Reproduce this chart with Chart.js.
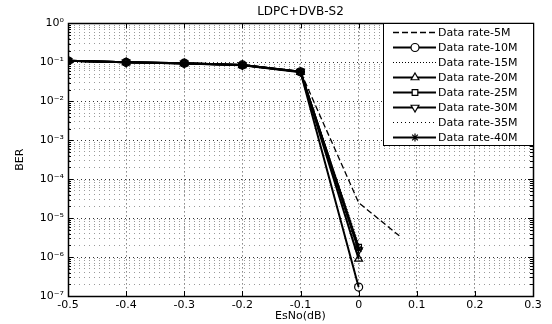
<!DOCTYPE html>
<html>
<head>
<meta charset="utf-8">
<script src="https://cdn.jsdelivr.net/npm/chart.js@4.4.1/dist/chart.umd.min.js"></script>
<style>
  html, body { margin: 0; padding: 0; background: #fff; }
  #wrap { width: 552px; height: 324px; }
</style>
</head>
<body>
<div id="wrap"><canvas id="c" width="552" height="324"></canvas></div>
<script>
// EsNo (dB) sample points
const esno = [-0.5, -0.4, -0.3, -0.2, -0.1, 0];
const esno5M = [-0.5, -0.4, -0.3, -0.2, -0.1, 0, 0.07];

// BER per data rate
const ber5M  = [0.11, 0.1, 0.094, 0.085, 0.058, 2.5e-5, 3.5e-6];
const ber10M = [0.11, 0.1, 0.095, 0.086, 0.057, 1.7e-7];
const ber15M = [0.11, 0.1, 0.094, 0.085, 0.058, 2.2e-6];
const ber20M = [0.11, 0.1, 0.094, 0.084, 0.056, 9e-7];
const ber25M = [0.11, 0.1, 0.095, 0.085, 0.057, 1.8e-6];
const ber30M = [0.11, 0.1, 0.094, 0.085, 0.058, 1.5e-6];
const ber35M = [0.11, 0.1, 0.094, 0.084, 0.057, 1.2e-6];
const ber40M = [0.11, 0.1, 0.095, 0.085, 0.058, 1.6e-6];

const seriesLabels = ['Data rate-5M', 'Data rate-10M', 'Data rate-15M', 'Data rate-20M',
  'Data rate-25M', 'Data rate-30M', 'Data rate-35M', 'Data rate-40M'];

const xTicks = [-0.5, -0.4, -0.3, -0.2, -0.1, 0, 0.1, 0.2, 0.3];
const yDecades = [-7, -6, -5, -4, -3, -2, -1, 0];

const FONT = 'DejaVu Sans';
const sup = { '-': '\u207B', '0': '\u2070', '1': '\u00B9', '2': '\u00B2', '3': '\u00B3',
  '4': '\u2074', '5': '\u2075', '6': '\u2076', '7': '\u2077', '8': '\u2078', '9': '\u2079' };

function isMajor(v) {
  const l = Math.log10(v);
  return Math.abs(l - Math.round(l)) < 1e-9;
}

function pts(xs, ys) {
  return xs.map((x, i) => ({ x: x, y: ys[i] }));
}

function series(label, xs, ys, style) {
  return Object.assign({
    label: label,
    data: pts(xs, ys),
    borderColor: '#000',
    backgroundColor: 'rgba(0,0,0,0)',
    pointBorderColor: '#000',
    pointBackgroundColor: 'rgba(0,0,0,0)',
    borderWidth: 2,
    pointBorderWidth: 1.2,
    pointRadius: 0,
    pointStyle: 'circle',
    pointRotation: 0,
    tension: 0,
    fill: false,
  }, style);
}

const datasets = [
  series(seriesLabels[0], esno5M, ber5M, { borderDash: [6, 3], borderWidth: 1.3 }),
  series(seriesLabels[1], esno, ber10M, { pointRadius: 4, pointStyle: 'circle' }),
  series(seriesLabels[2], esno, ber15M, { borderDash: [1, 2], borderWidth: 1 }),
  series(seriesLabels[3], esno, ber20M, { pointRadius: 4.5, pointStyle: 'triangle' }),
  series(seriesLabels[4], esno, ber25M, { pointRadius: 4, pointStyle: 'rect' }),
  series(seriesLabels[5], esno, ber30M, { pointRadius: 4.5, pointStyle: 'triangle', pointRotation: 180 }),
  series(seriesLabels[6], esno, ber35M, { borderDash: [1, 3], borderWidth: 1 }),
  series(seriesLabels[7], esno, ber40M, { pointRadius: 4, pointStyle: 'star' }),
];

// frame, inner tick marks and the in-plot legend (MATLAB style)
const matlabBox = {
  id: 'matlabBox',
  afterDraw(chart) {
    const { ctx, chartArea: a, scales } = chart;
    ctx.save();
    ctx.strokeStyle = '#000';
    ctx.lineWidth = 1;
    ctx.setLineDash([]);
    ctx.beginPath();
    scales.y.ticks.forEach(t => {
      const y = Math.round(scales.y.getPixelForValue(t.value)) + 0.5;
      const len = isMajor(t.value) ? 5 : 3;
      ctx.moveTo(a.left, y); ctx.lineTo(a.left + len, y);
      ctx.moveTo(a.right, y); ctx.lineTo(a.right - len, y);
    });
    scales.x.ticks.forEach(t => {
      const x = Math.round(scales.x.getPixelForValue(t.value)) + 0.5;
      ctx.moveTo(x, a.bottom); ctx.lineTo(x, a.bottom - 5);
      ctx.moveTo(x, a.top); ctx.lineTo(x, a.top + 5);
    });
    ctx.stroke();
    ctx.lineWidth = 1.5;
    ctx.strokeRect(Math.round(a.left) + 0.5, Math.round(a.top) + 0.5,
      Math.round(a.right - a.left), Math.round(a.bottom - a.top));

    // legend
    const lx = 383, ly = Math.round(a.top) + 0.5, lw = Math.round(a.right) - lx, lh = 122;
    ctx.fillStyle = '#fff';
    ctx.fillRect(lx, ly, lw, lh);
    ctx.lineWidth = 1;
    ctx.strokeRect(lx + 0.5, ly, lw, lh);
    ctx.font = '11px "' + FONT + '"';
    ctx.textBaseline = 'middle';
    ctx.textAlign = 'left';
    chart.data.datasets.forEach((ds, i) => {
      const y = ly + 9 + i * 15;
      ctx.strokeStyle = '#000';
      ctx.lineWidth = ds.borderWidth;
      ctx.setLineDash(ds.borderDash || []);
      ctx.beginPath();
      ctx.moveTo(393, y); ctx.lineTo(436, y);
      ctx.stroke();
      ctx.setLineDash([]);
      if (ds.pointRadius > 0) {
        ctx.lineWidth = ds.pointBorderWidth;
        ctx.fillStyle = '#fff';
        Chart.helpers.drawPoint(ctx, {
          pointStyle: ds.pointStyle, rotation: ds.pointRotation,
          radius: ds.pointRadius, borderWidth: ds.pointBorderWidth
        }, 415, y);
      }
      ctx.fillStyle = '#000';
      ctx.fillText(ds.label, 438, y + 0.5);
    });
    ctx.restore();
  }
};

new Chart(document.getElementById('c'), {
  type: 'line',
  data: { datasets },
  options: {
    responsive: false,
    animation: false,
    layout: { padding: { left: 0, right: 19, top: 0, bottom: 0 } },
    scales: {
      x: {
        type: 'linear',
        min: -0.5,
        max: 0.3,
        afterFit: s => { s.height = 28; },
        afterBuildTicks: s => { s.ticks = xTicks.map(v => ({ value: v })); },
        ticks: {
          autoSkip: false,
          padding: 3,
          color: '#000',
          font: { family: FONT, size: 11 },
          callback: v => {
            const r = Math.round(v * 10) / 10;
            return r === 0 ? '0' : r.toFixed(1);
          }
        },
        grid: { color: '#444', lineWidth: 1, drawTicks: false },
        border: { display: true, color: '#000', width: 1, dash: [1, 3] },
        title: {
          display: true, text: 'EsNo(dB)', color: '#000',
          font: { family: FONT, size: 11 }, padding: { top: 0, bottom: 1 }
        }
      },
      y: {
        type: 'logarithmic',
        min: 1e-7,
        max: 1,
        afterFit: s => { s.width = 68; },
        afterBuildTicks: s => {
          const t = [];
          yDecades.forEach(d => {
            const n = d === 0 ? 1 : 9;
            for (let k = 1; k <= n; k++) t.push({ value: k * Math.pow(10, d) });
          });
          s.ticks = t;
        },
        ticks: {
          autoSkip: false,
          padding: 4,
          color: '#000',
          font: { family: FONT, size: 11 },
          callback: v => {
            if (!isMajor(v)) return '';
            const e = String(Math.round(Math.log10(v)));
            return '10' + e.split('').map(c => sup[c]).join('');
          }
        },
        grid: {
          drawTicks: false,
          lineWidth: 1,
          color: c => (c.tick && isMajor(c.tick.value)) ? '#333' : '#9a9a9a'
        },
        border: {
          display: true, color: '#000', width: 1,
          dash: c => (c.tick && isMajor(c.tick.value)) ? [1, 3] : [1, 4]
        },
        title: {
          display: true, text: 'BER', color: '#000',
          font: { family: FONT, size: 11 }, padding: { top: 14, bottom: 0 }
        }
      }
    },
    plugins: {
      legend: { display: false },
      tooltip: { enabled: false },
      title: {
        display: true,
        text: 'LDPC+DVB-S2',
        fullSize: false,
        color: '#000',
        font: { family: FONT, size: 12, weight: 'normal' },
        padding: { top: 5, bottom: 4 }
      }
    }
  },
  plugins: [matlabBox]
});
</script>
</body>
</html>
